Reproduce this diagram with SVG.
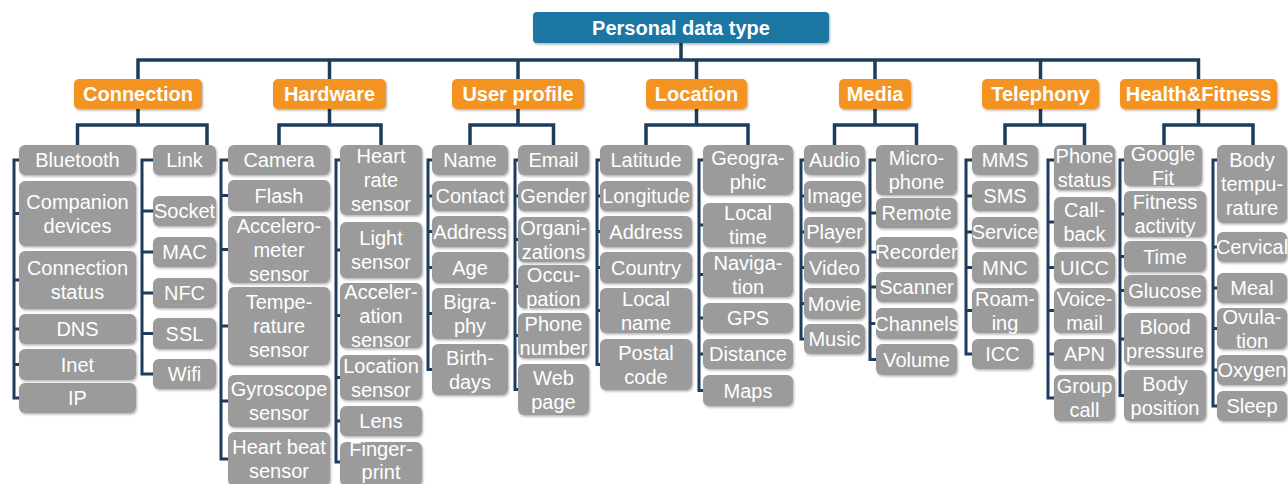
<svg xmlns="http://www.w3.org/2000/svg" width="1288" height="484" viewBox="0 0 1288 484">
<defs>
<filter id="sh" x="-10%" y="-10%" width="130%" height="140%"><feDropShadow dx="1" dy="1.5" stdDeviation="1" flood-color="#000" flood-opacity="0.3"/></filter>
<style>
.leaf rect{fill:#9b9b9b;filter:url(#sh)}
.leaf text{fill:#fff;font-family:"Liberation Sans",Arial,sans-serif;font-size:20px;text-anchor:middle}
.cat rect{fill:#f39424;filter:url(#sh)}
.cat text,.root text{fill:#fff;font-family:"Liberation Sans",Arial,sans-serif;font-size:20px;font-weight:bold;text-anchor:middle}
.root rect{fill:#1b76a2;filter:url(#sh)}
.conn path{stroke:#1e3d5c;stroke-width:3.5;fill:none}
.conn .sp{stroke-width:3}
</style>
</defs>
<rect width="1288" height="484" fill="#fff"/>
<g class="conn" id="connectors">
<path d="M681 43V60M138 79V60H1198.5V79M329.5 60V79M518 60V79M696.5 60V79M875 60V79M1040.5 60V79"/>
<path d="M138 109V125M77.5 145V125H207V145M329.5 109V125M279 145V125H381V145M518 109V125M470 145V125H553.5V145M696.5 109V125M646 145V125H748V145M875 109V125M834.5 145V125H916.5V145M1040.5 109V125M1005 145V125H1084.5V145M1198.5 109V125M1164 145V125H1253V145"/>
<path class="sp" d="M19 160H14V398H19M14 213.5H19M14 280H19M14 329H19M14 364.5H19"/>
<path class="sp" d="M153 160H142V374H153M142 211H153M142 252H153M142 293H153M142 333.5H153"/>
<path class="sp" d="M228 160H221V459H228M221 195.5H228M221 249.5H228M221 326H228M221 401H228"/>
<path class="sp" d="M340 160H336V462H340M336 250H340M336 315.5H340M336 377.5H340M336 421H340"/>
<path class="sp" d="M432 160H428V369.5H432M428 196H432M428 231.5H432M428 267.5H432M428 313.5H432"/>
<path class="sp" d="M518 160H515V389.5H518M515 196H518M515 239.5H518M515 286.5H518M515 335.5H518"/>
<path class="sp" d="M600 160H597V364.5H600M597 196H600M597 231.5H600M597 267.5H600M597 310.5H600"/>
<path class="sp" d="M703 160H699V390.5H703M699 225H703M699 274.5H703M699 318H703M699 354H703"/>
<path class="sp" d="M804 160H801V339H804M801 196H804M801 232H804M801 267.5H804M801 303.5H804"/>
<path class="sp" d="M876 160H870V359.5H876M870 213H876M870 252H876M870 287H876M870 323.5H876"/>
<path class="sp" d="M972 160H966V354H972M966 196H972M966 232H972M966 267.5H972M966 310.5H972"/>
<path class="sp" d="M1054 160H1048V398H1054M1048 222H1054M1048 267.5H1054M1048 310.5H1054M1048 354H1054"/>
<path class="sp" d="M1124 160H1120V395.5H1124M1120 214H1124M1120 256.5H1124M1120 290.5H1124M1120 339H1124"/>
<path class="sp" d="M1217 160H1213V406H1217M1213 247H1217M1213 288H1217M1213 328.5H1217M1213 370H1217"/>
</g>
<g class="root" id="root"><rect x="533" y="12" width="296" height="31" rx="4"/><text x="681" y="35">Personal data type</text></g>
<g class="cat" id="cat-connection"><rect x="74" y="79" width="128" height="30" rx="5"/><text x="138" y="101">Connection</text></g>
<g class="cat" id="cat-hardware"><rect x="273" y="79" width="113" height="30" rx="5"/><text x="329.5" y="101">Hardware</text></g>
<g class="cat" id="cat-userprofile"><rect x="452" y="79" width="132" height="30" rx="5"/><text x="518" y="101">User profile</text></g>
<g class="cat" id="cat-location"><rect x="646" y="79" width="101" height="30" rx="5"/><text x="696.5" y="101">Location</text></g>
<g class="cat" id="cat-media"><rect x="839" y="79" width="72" height="30" rx="5"/><text x="875" y="101">Media</text></g>
<g class="cat" id="cat-telephony"><rect x="982" y="79" width="117" height="30" rx="5"/><text x="1040.5" y="101">Telephony</text></g>
<g class="cat" id="cat-health"><rect x="1120" y="79" width="157" height="30" rx="5"/><text x="1198.5" y="101">Health&amp;Fitness</text></g>

<g class="leaf" id="n-bluetooth"><rect x="19" y="145" width="117" height="30" rx="6"/><text x="77.5" y="167">Bluetooth</text></g>
<g class="leaf" id="n-companion"><rect x="19" y="181" width="117" height="65" rx="6"/><text x="77.5" y="208.5">Companion<tspan x="77.5" dy="24">devices</tspan></text></g>
<g class="leaf" id="n-connstatus"><rect x="19" y="251" width="117" height="58" rx="6"/><text x="77.5" y="275">Connection<tspan x="77.5" dy="24">status</tspan></text></g>
<g class="leaf" id="n-dns"><rect x="19" y="314" width="117" height="30" rx="6"/><text x="77.5" y="336">DNS</text></g>
<g class="leaf" id="n-inet"><rect x="19" y="349" width="117" height="31" rx="6"/><text x="77.5" y="371.5">Inet</text></g>
<g class="leaf" id="n-ip"><rect x="19" y="383" width="117" height="30" rx="6"/><text x="77.5" y="405">IP</text></g>

<g class="leaf" id="n-link"><rect x="153" y="145" width="63" height="30" rx="6"/><text x="184.5" y="167">Link</text></g>
<g class="leaf" id="n-socket"><rect x="153" y="196" width="63" height="30" rx="6"/><text x="184.5" y="218">Socket</text></g>
<g class="leaf" id="n-mac"><rect x="153" y="237" width="63" height="30" rx="6"/><text x="184.5" y="259">MAC</text></g>
<g class="leaf" id="n-nfc"><rect x="153" y="278" width="63" height="30" rx="6"/><text x="184.5" y="300">NFC</text></g>
<g class="leaf" id="n-ssl"><rect x="153" y="318" width="63" height="31" rx="6"/><text x="184.5" y="340.5">SSL</text></g>
<g class="leaf" id="n-wifi"><rect x="153" y="359" width="63" height="30" rx="6"/><text x="184.5" y="381">Wifi</text></g>

<g class="leaf" id="n-camera"><rect x="228" y="145" width="102" height="30" rx="6"/><text x="279" y="167">Camera</text></g>
<g class="leaf" id="n-flash"><rect x="228" y="180" width="102" height="31" rx="6"/><text x="279" y="202.5">Flash</text></g>
<g class="leaf" id="n-accelerometer"><rect x="228" y="216" width="102" height="67" rx="6"/><text x="279" y="232.5">Accelero-<tspan x="279" dy="24">meter</tspan><tspan x="279" dy="24">sensor</tspan></text></g>
<g class="leaf" id="n-temperature"><rect x="228" y="287" width="102" height="78" rx="6"/><text x="279" y="309">Tempe-<tspan x="279" dy="24">rature</tspan><tspan x="279" dy="24">sensor</tspan></text></g>
<g class="leaf" id="n-gyroscope"><rect x="228" y="375" width="102" height="52" rx="6"/><text x="279" y="396">Gyroscope<tspan x="279" dy="24">sensor</tspan></text></g>
<g class="leaf" id="n-heartbeat"><rect x="228" y="432" width="102" height="54" rx="6"/><text x="279" y="454">Heart beat<tspan x="279" dy="24">sensor</tspan></text></g>

<g class="leaf" id="n-heartrate"><rect x="340" y="145" width="82" height="70" rx="6"/><text x="381" y="163">Heart<tspan x="381" dy="24">rate</tspan><tspan x="381" dy="24">sensor</tspan></text></g>
<g class="leaf" id="n-light"><rect x="340" y="222" width="82" height="56" rx="6"/><text x="381" y="245">Light<tspan x="381" dy="24">sensor</tspan></text></g>
<g class="leaf" id="n-acceleration"><rect x="340" y="283" width="82" height="65" rx="6"/><text x="381" y="298.5">Acceler-<tspan x="381" dy="24">ation</tspan><tspan x="381" dy="24">sensor</tspan></text></g>
<g class="leaf" id="n-locsensor"><rect x="340" y="355" width="82" height="45" rx="6"/><text x="381" y="372.5">Location<tspan x="381" dy="24">sensor</tspan></text></g>
<g class="leaf" id="n-lens"><rect x="340" y="406" width="82" height="30" rx="6"/><text x="381" y="428">Lens</text></g>
<g class="leaf" id="n-fingerprint"><rect x="340" y="442" width="82" height="44" rx="6"/><text x="381" y="456">Finger-<tspan x="381" dy="23">print</tspan></text></g>

<g class="leaf" id="n-name"><rect x="432" y="145" width="76" height="30" rx="6"/><text x="470" y="167">Name</text></g>
<g class="leaf" id="n-contact"><rect x="432" y="181" width="76" height="30" rx="6"/><text x="470" y="203">Contact</text></g>
<g class="leaf" id="n-address1"><rect x="432" y="216" width="76" height="31" rx="6"/><text x="470" y="238.5">Address</text></g>
<g class="leaf" id="n-age"><rect x="432" y="252" width="76" height="31" rx="6"/><text x="470" y="274.5">Age</text></g>
<g class="leaf" id="n-bigraphy"><rect x="432" y="288" width="76" height="51" rx="6"/><text x="470" y="308.5">Bigra-<tspan x="470" dy="24">phy</tspan></text></g>
<g class="leaf" id="n-birthdays"><rect x="432" y="344" width="76" height="51" rx="6"/><text x="470" y="364.5">Birth-<tspan x="470" dy="24">days</tspan></text></g>

<g class="leaf" id="n-email"><rect x="518" y="145" width="71" height="30" rx="6"/><text x="553.5" y="167">Email</text></g>
<g class="leaf" id="n-gender"><rect x="518" y="181" width="71" height="30" rx="6"/><text x="553.5" y="203">Gender</text></g>
<g class="leaf" id="n-organizations"><rect x="518" y="217" width="71" height="45" rx="6"/><text x="553.5" y="234.5">Organi-<tspan x="553.5" dy="24">zations</tspan></text></g>
<g class="leaf" id="n-occupation"><rect x="518" y="265" width="71" height="43" rx="6"/><text x="553.5" y="281.5">Occu-<tspan x="553.5" dy="24">pation</tspan></text></g>
<g class="leaf" id="n-phonenumber"><rect x="518" y="313" width="71" height="45" rx="6"/><text x="553.5" y="330.5">Phone<tspan x="553.5" dy="24">number</tspan></text></g>
<g class="leaf" id="n-webpage"><rect x="518" y="364" width="71" height="51" rx="6"/><text x="553.5" y="384.5">Web<tspan x="553.5" dy="24">page</tspan></text></g>

<g class="leaf" id="n-latitude"><rect x="600" y="145" width="92" height="30" rx="6"/><text x="646" y="167">Latitude</text></g>
<g class="leaf" id="n-longitude"><rect x="600" y="181" width="92" height="30" rx="6"/><text x="646" y="203">Longitude</text></g>
<g class="leaf" id="n-address2"><rect x="600" y="216" width="92" height="31" rx="6"/><text x="646" y="238.5">Address</text></g>
<g class="leaf" id="n-country"><rect x="600" y="252" width="92" height="31" rx="6"/><text x="646" y="274.5">Country</text></g>
<g class="leaf" id="n-localname"><rect x="600" y="288" width="92" height="45" rx="6"/><text x="646" y="305.5">Local<tspan x="646" dy="24">name</tspan></text></g>
<g class="leaf" id="n-postalcode"><rect x="600" y="339" width="92" height="51" rx="6"/><text x="646" y="359.5">Postal<tspan x="646" dy="24">code</tspan></text></g>

<g class="leaf" id="n-geographic"><rect x="703" y="145" width="90" height="50" rx="6"/><text x="748" y="165">Geogra-<tspan x="748" dy="24">phic</tspan></text></g>
<g class="leaf" id="n-localtime"><rect x="703" y="203" width="90" height="44" rx="6"/><text x="748" y="220">Local<tspan x="748" dy="24">time</tspan></text></g>
<g class="leaf" id="n-navigation"><rect x="703" y="252" width="90" height="45" rx="6"/><text x="748" y="269.5">Naviga-<tspan x="748" dy="24">tion</tspan></text></g>
<g class="leaf" id="n-gps"><rect x="703" y="303" width="90" height="30" rx="6"/><text x="748" y="325">GPS</text></g>
<g class="leaf" id="n-distance"><rect x="703" y="339" width="90" height="30" rx="6"/><text x="748" y="361">Distance</text></g>
<g class="leaf" id="n-maps"><rect x="703" y="375" width="90" height="31" rx="6"/><text x="748" y="397.5">Maps</text></g>

<g class="leaf" id="n-audio"><rect x="804" y="145" width="61" height="30" rx="6"/><text x="834.5" y="167">Audio</text></g>
<g class="leaf" id="n-image"><rect x="804" y="181" width="61" height="30" rx="6"/><text x="834.5" y="203">Image</text></g>
<g class="leaf" id="n-player"><rect x="804" y="217" width="61" height="30" rx="6"/><text x="834.5" y="239">Player</text></g>
<g class="leaf" id="n-video"><rect x="804" y="252" width="61" height="31" rx="6"/><text x="834.5" y="274.5">Video</text></g>
<g class="leaf" id="n-movie"><rect x="804" y="288" width="61" height="31" rx="6"/><text x="834.5" y="310.5">Movie</text></g>
<g class="leaf" id="n-music"><rect x="804" y="324" width="61" height="30" rx="6"/><text x="834.5" y="346">Music</text></g>

<g class="leaf" id="n-microphone"><rect x="876" y="145" width="81" height="50" rx="6"/><text x="916.5" y="165">Micro-<tspan x="916.5" dy="24">phone</tspan></text></g>
<g class="leaf" id="n-remote"><rect x="876" y="198" width="81" height="30" rx="6"/><text x="916.5" y="220">Remote</text></g>
<g class="leaf" id="n-recorder"><rect x="876" y="237" width="81" height="30" rx="6"/><text x="916.5" y="259">Recorder</text></g>
<g class="leaf" id="n-scanner"><rect x="876" y="272" width="81" height="30" rx="6"/><text x="916.5" y="294">Scanner</text></g>
<g class="leaf" id="n-channels"><rect x="876" y="308" width="81" height="31" rx="6"/><text x="916.5" y="330.5">Channels</text></g>
<g class="leaf" id="n-volume"><rect x="876" y="344" width="81" height="31" rx="6"/><text x="916.5" y="366.5">Volume</text></g>

<g class="leaf" id="n-mms"><rect x="972" y="145" width="66" height="30" rx="6"/><text x="1005" y="167">MMS</text></g>
<g class="leaf" id="n-sms"><rect x="972" y="181" width="66" height="30" rx="6"/><text x="1005" y="203">SMS</text></g>
<g class="leaf" id="n-service"><rect x="972" y="217" width="66" height="30" rx="6"/><text x="1005" y="239">Service</text></g>
<g class="leaf" id="n-mnc"><rect x="972" y="252" width="66" height="31" rx="6"/><text x="1005" y="274.5">MNC</text></g>
<g class="leaf" id="n-roaming"><rect x="972" y="288" width="66" height="45" rx="6"/><text x="1005" y="305.5">Roam-<tspan x="1005" dy="24">ing</tspan></text></g>
<g class="leaf" id="n-icc"><rect x="972" y="339" width="61" height="30" rx="6"/><text x="1002.5" y="361">ICC</text></g>

<g class="leaf" id="n-phonestatus"><rect x="1054" y="145" width="61" height="45" rx="6"/><text x="1084.5" y="162.5">Phone<tspan x="1084.5" dy="24">status</tspan></text></g>
<g class="leaf" id="n-callback"><rect x="1054" y="197" width="61" height="50" rx="6"/><text x="1084.5" y="217">Call-<tspan x="1084.5" dy="24">back</tspan></text></g>
<g class="leaf" id="n-uicc"><rect x="1054" y="252" width="61" height="31" rx="6"/><text x="1084.5" y="274.5">UICC</text></g>
<g class="leaf" id="n-voicemail"><rect x="1054" y="288" width="61" height="45" rx="6"/><text x="1084.5" y="305.5">Voice-<tspan x="1084.5" dy="24">mail</tspan></text></g>
<g class="leaf" id="n-apn"><rect x="1054" y="339" width="61" height="30" rx="6"/><text x="1084.5" y="361">APN</text></g>
<g class="leaf" id="n-groupcall"><rect x="1054" y="375" width="61" height="46" rx="6"/><text x="1084.5" y="393">Group<tspan x="1084.5" dy="24">call</tspan></text></g>

<g class="leaf" id="n-googlefit"><rect x="1124" y="145" width="78" height="41" rx="6"/><text x="1163" y="160.5">Google<tspan x="1163" dy="24">Fit</tspan></text></g>
<g class="leaf" id="n-fitness"><rect x="1124" y="191" width="82" height="46" rx="6"/><text x="1165" y="209">Fitness<tspan x="1165" dy="24">activity</tspan></text></g>
<g class="leaf" id="n-time"><rect x="1124" y="241" width="82" height="31" rx="6"/><text x="1165" y="263.5">Time</text></g>
<g class="leaf" id="n-glucose"><rect x="1124" y="275" width="82" height="31" rx="6"/><text x="1165" y="297.5">Glucose</text></g>
<g class="leaf" id="n-blood"><rect x="1124" y="313" width="82" height="52" rx="6"/><text x="1165" y="334">Blood<tspan x="1165" dy="24">pressure</tspan></text></g>
<g class="leaf" id="n-bodypos"><rect x="1124" y="370" width="82" height="51" rx="6"/><text x="1165" y="390.5">Body<tspan x="1165" dy="24">position</tspan></text></g>

<g class="leaf" id="n-bodytemp"><rect x="1217" y="145" width="70" height="78" rx="6"/><text x="1252" y="167">Body<tspan x="1252" dy="24">tempu-</tspan><tspan x="1252" dy="24">rature</tspan></text></g>
<g class="leaf" id="n-cervical"><rect x="1217" y="232" width="70" height="30" rx="6"/><text x="1252" y="254">Cervical</text></g>
<g class="leaf" id="n-meal"><rect x="1217" y="273" width="70" height="30" rx="6"/><text x="1252" y="295">Meal</text></g>
<g class="leaf" id="n-ovulation"><rect x="1217" y="308" width="70" height="41" rx="6"/><text x="1252" y="323.5">Ovula-<tspan x="1252" dy="24">tion</tspan></text></g>
<g class="leaf" id="n-oxygen"><rect x="1217" y="355" width="70" height="30" rx="6"/><text x="1252" y="377">Oxygen</text></g>
<g class="leaf" id="n-sleep"><rect x="1217" y="391" width="70" height="30" rx="6"/><text x="1252" y="413">Sleep</text></g>
</svg>
